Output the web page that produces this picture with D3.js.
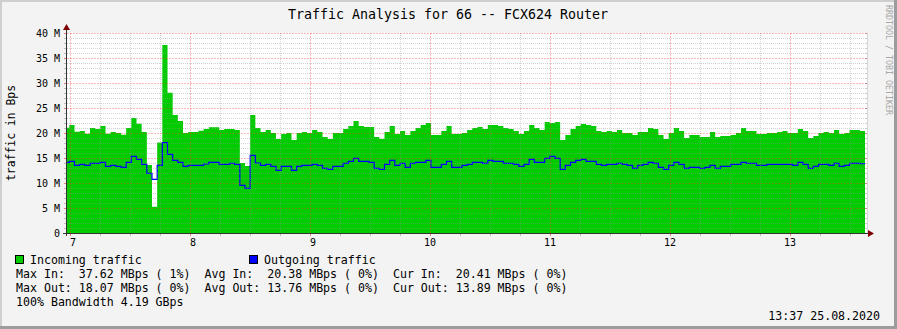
<!DOCTYPE html>
<html lang="en">
<head>
<meta charset="UTF-8">
<title>Traffic Analysis for 66 -- FCX624 Router</title>
<script src="https://d3js.org/d3.v7.min.js"></script>
<style>
  body { margin: 0; background: #f3f3f3; }
  svg { display: block; font-family: "DejaVu Sans Mono", monospace; }
  .pre { white-space: pre; }
</style>
</head>
<body>
<svg width="897" height="329"></svg>
<script>
// traffic in MBps, one value per 155 s step starting 06:57:05
const incoming = [
  21.07, 21.6, 20.27, 20.4, 19.87, 21.0, 20.8, 21.4, 19.87, 20.2,
  20.0, 19.67, 21.0, 23.0, 21.87, 20.2, 13.6, 5.27, 18.1, 37.62,
  28.07, 23.6, 22.4, 20.0, 20.2, 20.2, 20.47, 20.8, 21.13, 21.13,
  20.6, 20.8, 20.8, 20.6, 14.0, 13.4, 23.6, 21.0, 20.2, 20.6,
  20.0, 18.8, 19.8, 20.0, 18.6, 20.0, 20.2, 20.0, 20.6, 20.2,
  19.2, 18.8, 20.0, 20.0, 20.8, 21.4, 22.4, 21.4, 21.2, 21.2,
  19.2, 18.8, 20.2, 21.4, 19.8, 20.4, 19.6, 20.4, 21.0, 21.6,
  22.0, 19.6, 19.6, 20.4, 21.4, 19.8, 19.8, 20.0, 20.6, 21.0,
  21.2, 20.8, 21.6, 21.6, 21.4, 21.0, 20.8, 20.4, 19.8, 20.4,
  21.6, 21.0, 20.6, 22.2, 22.0, 22.2, 18.6, 19.6, 20.8, 21.4,
  21.8, 21.6, 21.4, 20.4, 20.2, 20.4, 20.2, 20.6, 20.0, 20.0,
  19.6, 20.2, 20.2, 21.0, 20.8, 19.6, 18.8, 20.0, 21.0, 20.4,
  19.0, 19.6, 19.6, 19.2, 19.2, 20.2, 19.2, 19.4, 19.4, 19.6,
  20.0, 21.0, 20.4, 20.4, 19.8, 19.8, 20.0, 20.0, 20.2, 20.4,
  20.0, 20.0, 20.8, 20.4, 19.0, 19.4, 20.0, 20.2, 20.0, 20.6,
  19.8, 20.0, 20.6, 20.6, 20.41
];
const outgoing = [
  14.13, 14.33, 13.53, 13.73, 13.53, 13.93, 13.93, 14.13, 13.33, 13.53,
  13.33, 13.13, 14.13, 15.33, 14.73, 13.73, 11.93, 10.73, 13.53, 18.07,
  15.73, 14.53, 14.13, 13.33, 13.53, 13.53, 13.53, 13.8, 14.13, 14.13,
  13.73, 13.73, 13.93, 13.73, 9.53, 8.93, 15.53, 14.0, 13.53, 13.73,
  13.33, 12.53, 13.33, 13.33, 12.53, 13.33, 13.53, 13.53, 13.73, 13.53,
  12.93, 12.73, 13.33, 13.33, 13.93, 14.33, 14.93, 14.33, 14.33, 14.13,
  12.93, 12.73, 13.73, 14.53, 13.53, 13.93, 13.13, 13.93, 14.13, 14.13,
  14.53, 13.13, 13.13, 13.73, 14.33, 13.13, 13.13, 13.53, 13.73, 14.13,
  14.13, 13.93, 14.53, 14.33, 14.33, 13.93, 13.93, 13.73, 13.33, 13.73,
  14.73, 14.13, 14.13, 14.93, 15.33, 14.93, 12.73, 13.53, 14.13, 14.53,
  14.73, 14.33, 14.33, 13.73, 13.53, 13.73, 13.73, 13.93, 13.73, 13.53,
  12.93, 13.53, 13.73, 14.13, 13.93, 13.13, 12.73, 13.53, 14.13, 13.73,
  12.93, 13.13, 13.13, 12.93, 13.13, 13.53, 12.93, 13.33, 13.33, 13.73,
  13.73, 14.13, 13.93, 13.93, 13.53, 13.53, 13.73, 13.73, 13.73, 13.73,
  13.73, 13.53, 14.13, 13.73, 12.93, 13.33, 13.73, 13.73, 13.53, 13.93,
  13.33, 13.53, 13.93, 13.93, 13.89
];
const startTime = new Date(2020, 7, 25, 6, 57, 5);
const stepSec = 155;

const yTickValues = [0, 5, 10, 15, 20, 25, 30, 35, 40];
const yTickLabels = ["0", "5 M", "10 M", "15 M", "20 M", "25 M", "30 M", "35 M", "40 M"];
const xTickHours = [7, 8, 9, 10, 11, 12, 13];
const xTickLabels = [" 7", " 8", " 9", "10", "11", "12", "13"];

const titleText = "Traffic Analysis for 66 -- FCX624 Router";
const yAxisTitle = "traffic in Bps";
const legendNames = ["Incoming traffic", "Outgoing traffic"];
const legendColors = ["#00cc00", "#0000ff"];
const statLines = [
  "Max In:  37.62 MBps ( 1%)  Avg In:  20.38 MBps ( 0%)  Cur In:  20.41 MBps ( 0%)",
  "Max Out: 18.07 MBps ( 0%)  Avg Out: 13.76 MBps ( 0%)  Cur Out: 13.89 MBps ( 0%)",
  "100% Bandwidth 4.19 GBps"
];
const footerText = "13:37 25.08.2020";
const watermark = "RRDTOOL / TOBI OETIKER";

const svg = d3.select("svg");
const W = 897, H = 329;
const plot = { left: 67, right: 867, top: 33, bottom: 233 };

// background + 3d frame
svg.append("rect").attr("width", W).attr("height", H).attr("fill", "#f3f3f3");
svg.append("path").attr("d", `M1,${H} V1 H${W}`).attr("stroke", "#cfcfcf").attr("stroke-width", 2).attr("fill", "none");
svg.append("path").attr("d", `M0,${H - 1.5} H${W - 1.5} V0`).attr("stroke", "#9c9c9c").attr("stroke-width", 3).attr("fill", "none");

const x = d3.scaleTime()
  .domain([new Date(2020, 7, 25, 6, 58, 30), new Date(2020, 7, 25, 13, 38, 30)])
  .range([plot.left, plot.right]);
const y = d3.scaleLinear().domain([0, 40]).range([plot.bottom, plot.top]);

// canvas
svg.append("rect")
  .attr("x", plot.left).attr("y", plot.top)
  .attr("width", plot.right - plot.left).attr("height", plot.bottom - plot.top)
  .attr("fill", "#ffffff");

svg.append("clipPath").attr("id", "clip").append("rect")
  .attr("x", plot.left).attr("y", plot.top)
  .attr("width", plot.right - plot.left).attr("height", plot.bottom - plot.top);

const toPoints = arr => {
  const pts = arr.map((v, i) => ({ t: new Date(+startTime + i * stepSec * 1000), v }));
  pts.push({ t: new Date(+startTime + arr.length * stepSec * 1000), v: arr[arr.length - 1] });
  return pts;
};
const inPts = toPoints(incoming);
const outPts = toPoints(outgoing);

const g = svg.append("g").attr("clip-path", "url(#clip)");

g.append("path")
  .datum(inPts)
  .attr("fill", "#00cc00")
  .attr("d", d3.area().curve(d3.curveStepAfter).x(d => x(d.t)).y0(y(0)).y1(d => y(d.v)));

// grid over the graph
const minorVals = d3.range(1, 40).filter(v => v % 5 !== 0);
const majorVals = d3.range(5, 41, 5);
const quarterTimes = d3.timeMinute.every(15).range(x.domain()[0], x.domain()[1]);
const minorColor = "rgba(150,150,150,0.42)";
const majorColor = "rgba(240,60,60,0.36)";

svg.append("g").selectAll("line").data(minorVals).join("line")
  .attr("x1", plot.left).attr("x2", plot.right)
  .attr("y1", d => Math.round(y(d)) + 0.5).attr("y2", d => Math.round(y(d)) + 0.5)
  .attr("stroke", minorColor).attr("stroke-dasharray", "1,1");
svg.append("g").selectAll("line").data(quarterTimes.filter(t => t.getMinutes() !== 0)).join("line")
  .attr("x1", d => Math.round(x(d)) + 0.5).attr("x2", d => Math.round(x(d)) + 0.5)
  .attr("y1", plot.top).attr("y2", plot.bottom)
  .attr("stroke", minorColor).attr("stroke-dasharray", "1,1");
svg.append("g").selectAll("line").data(majorVals).join("line")
  .attr("x1", plot.left).attr("x2", plot.right)
  .attr("y1", d => Math.round(y(d)) + 0.5).attr("y2", d => Math.round(y(d)) + 0.5)
  .attr("stroke", majorColor).attr("stroke-dasharray", "2,1");
svg.append("g").selectAll("line").data(quarterTimes.filter(t => t.getMinutes() === 0)).join("line")
  .attr("x1", d => Math.round(x(d)) + 0.5).attr("x2", d => Math.round(x(d)) + 0.5)
  .attr("y1", plot.top).attr("y2", plot.bottom)
  .attr("stroke", majorColor).attr("stroke-dasharray", "2,1");

// outgoing line
g.append("path")
  .datum(outPts)
  .attr("fill", "none")
  .attr("stroke", "#0000ff")
  .attr("stroke-width", 1.2)
  .attr("d", d3.line().curve(d3.curveStepAfter).x(d => x(d.t)).y(d => y(d.v)));

// small ticks on the axes
svg.append("g").selectAll("line").data(d3.range(1, 41)).join("line")
  .attr("x1", plot.left - 3).attr("x2", plot.left)
  .attr("y1", d => Math.round(y(d)) + 0.5).attr("y2", d => Math.round(y(d)) + 0.5)
  .attr("stroke", d => d % 5 === 0 ? "#e08080" : "#bbbbbb");
svg.append("g").selectAll("line").data(d3.range(1, 41)).join("line")
  .attr("x1", plot.right - 2).attr("x2", plot.right + 1)
  .attr("y1", d => Math.round(y(d)) + 0.5).attr("y2", d => Math.round(y(d)) + 0.5)
  .attr("stroke", d => d % 5 === 0 ? "#e08080" : "#cccccc");
svg.append("line")
  .attr("x1", plot.right + 0.5).attr("x2", plot.right + 0.5)
  .attr("y1", plot.top).attr("y2", plot.bottom)
  .attr("stroke", "#d6d6d6");
svg.append("g").selectAll("line").data(quarterTimes).join("line")
  .attr("x1", d => Math.round(x(d)) + 0.5).attr("x2", d => Math.round(x(d)) + 0.5)
  .attr("y1", plot.bottom).attr("y2", plot.bottom + 3)
  .attr("stroke", d => d.getMinutes() === 0 ? "#e08080" : "#bbbbbb");

// axes + arrows
svg.append("line")
  .attr("x1", plot.left - 4).attr("x2", plot.right + 3)
  .attr("y1", plot.bottom + 0.5).attr("y2", plot.bottom + 0.5)
  .attr("stroke", "#333333");
svg.append("line")
  .attr("x1", plot.left - 0.5).attr("x2", plot.left - 0.5)
  .attr("y1", plot.bottom + 3).attr("y2", plot.top - 4)
  .attr("stroke", "#333333");
svg.append("path")
  .attr("d", `M${plot.right + 1},${plot.bottom - 3} L${plot.right + 7},${plot.bottom + 0.5} L${plot.right + 1},${plot.bottom + 4} Z`)
  .attr("fill", "#7f0000");
svg.append("path")
  .attr("d", `M${plot.left - 4},${plot.top - 3} L${plot.left - 0.5},${plot.top - 9} L${plot.left + 3},${plot.top - 3} Z`)
  .attr("fill", "#7f0000");

// tick labels
svg.append("g").selectAll("text").data(yTickValues).join("text")
  .attr("x", 60).attr("y", d => y(d) + 3.5)
  .attr("text-anchor", "end").attr("font-size", "10px").attr("fill", "#000")
  .text((d, i) => yTickLabels[i]);
svg.append("g").selectAll("text").data(xTickHours).join("text")
  .attr("class", "pre")
  .attr("x", d => x(new Date(2020, 7, 25, d, 0, 0)))
  .attr("y", 246)
  .attr("text-anchor", "middle").attr("font-size", "10px").attr("fill", "#000")
  .text((d, i) => xTickLabels[i]);

// titles
svg.append("text")
  .attr("x", 448).attr("y", 18.5).attr("text-anchor", "middle")
  .attr("font-size", "13.3px").attr("fill", "#000")
  .text(titleText);
svg.append("text")
  .attr("transform", "translate(14.5,133) rotate(-90)")
  .attr("text-anchor", "middle").attr("font-size", "11.4px").attr("fill", "#000")
  .text(yAxisTitle);
svg.append("text")
  .attr("transform", "translate(886,5) rotate(90)")
  .attr("font-size", "8.3px").attr("fill", "#a8a8a8")
  .text(watermark);

// legend
const legendX = [15, 249];
legendNames.forEach((name, i) => {
  svg.append("rect")
    .attr("x", legendX[i] + 0.5).attr("y", 255.5).attr("width", 8).attr("height", 8)
    .attr("fill", legendColors[i]).attr("stroke", "#000");
  svg.append("text")
    .attr("x", legendX[i] + 15).attr("y", 263.5)
    .attr("font-size", "11.6px").attr("fill", "#000")
    .text(name);
});
svg.append("g").selectAll("text").data(statLines).join("text")
  .attr("class", "pre")
  .attr("x", 16).attr("y", (d, i) => 277.5 + i * 14)
  .attr("font-size", "11.6px").attr("fill", "#000")
  .text(d => d);
svg.append("text")
  .attr("x", 880).attr("y", 319.5).attr("text-anchor", "end")
  .attr("font-size", "11.6px").attr("fill", "#000")
  .text(footerText);
</script>
</body>
</html>
